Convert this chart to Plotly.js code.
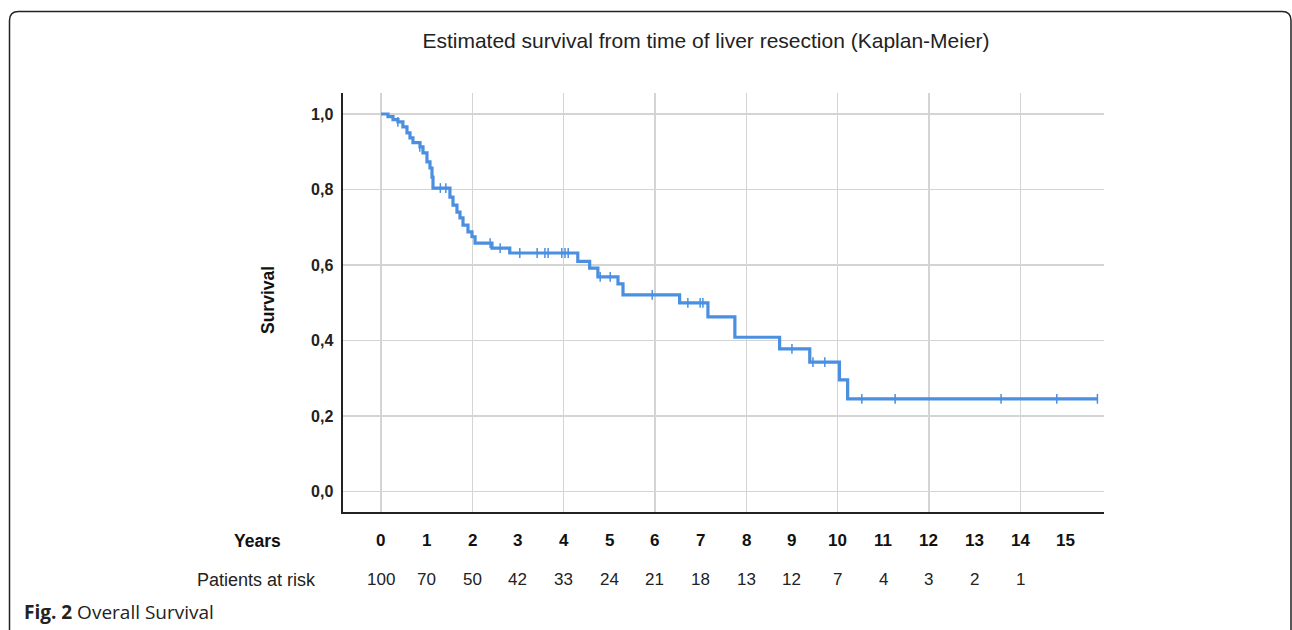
<!DOCTYPE html>
<html>
<head>
<meta charset="utf-8">
<script src="https://cdn.plot.ly/plotly-3.0.1.min.js"></script>
<style>html,body{margin:0;padding:0;background:#fff;}#chart{width:1292px;height:630px;}</style>
</head>
<body>
<div id="chart"></div>
<script>
// Kaplan-Meier step curve (time in years, survival)
const eventTimes = [0, 0.153, 0.263, 0.372, 0.48, 0.569, 0.635, 0.70, 0.854, 0.92, 1.007, 1.073, 1.117, 1.139,
  1.51, 1.577, 1.664, 1.73, 1.796, 1.905, 1.993, 2.06, 2.43, 2.82, 4.31, 4.57, 4.75, 5.19, 5.30,
  6.54, 7.16, 7.75, 8.73, 9.39, 10.04, 10.22, 15.69];
const survival = [1.0, 0.993, 0.985, 0.979, 0.966, 0.95, 0.937, 0.924, 0.913, 0.897, 0.873, 0.857, 0.833, 0.804,
  0.78, 0.759, 0.74, 0.725, 0.706, 0.688, 0.675, 0.658, 0.645, 0.632, 0.61, 0.592, 0.569, 0.55, 0.521,
  0.50, 0.463, 0.409, 0.378, 0.343, 0.296, 0.246, 0.246];
// censored observations
const censorTimes = [0.37, 0.85, 1.30, 1.42, 2.39, 2.61, 3.04, 3.42, 3.59, 3.66, 3.96, 4.03, 4.10, 4.80, 5.02,
  5.94, 6.72, 6.99, 7.05, 9.0, 9.46, 9.72, 10.53, 11.26, 13.58, 14.8, 15.69];
const censorSurv = [0.979, 0.913, 0.804, 0.804, 0.658, 0.645, 0.632, 0.632, 0.632, 0.632, 0.632, 0.632, 0.632, 0.569, 0.569,
  0.521, 0.50, 0.50, 0.50, 0.378, 0.343, 0.343, 0.246, 0.246, 0.246, 0.246, 0.246];
// risk table
const years = [0,1,2,3,4,5,6,7,8,9,10,11,12,13,14,15];
const atRisk = ['100','70','50','42','33','24','21','18','13','12','7','4','3','2','1',''];
const yTickVals = [0, 0.2, 0.4, 0.6, 0.8, 1.0];
const yTickText = ['0,0','0,2','0,4','0,6','0,8','1,0'];
const gridYears = [0,2,4,6,8,10,12,14];

const blue = '#4a8fe0';
const font = 'Liberation Sans, Arial, sans-serif';

const traces = [
  {x: eventTimes, y: survival, type: 'scatter', mode: 'lines',
   line: {shape: 'hv', color: blue, width: 3.2}, hoverinfo: 'skip', showlegend: false},
  {x: censorTimes, y: censorSurv, type: 'scatter', mode: 'markers',
   marker: {symbol: 'line-ns-open', size: 7, line: {color: blue, width: 1.5}, color: blue},
   hoverinfo: 'skip', showlegend: false}
];

const annotations = [];
years.forEach((yr, i) => {
  annotations.push({x: yr, y: -0.069, xref: 'x', yref: 'paper', text: '<b>' + yr + '</b>', showarrow: false,
    xanchor: 'center', yanchor: 'middle', font: {family: font, size: 17, color: '#111'}});
  if (atRisk[i] !== '') annotations.push({x: yr, y: -0.162, xref: 'x', yref: 'paper', text: atRisk[i], showarrow: false,
    xanchor: 'center', yanchor: 'middle', font: {family: font, size: 17, color: '#222'}});
});
annotations.push({x: (257-343)/761, y: -0.069, xref: 'paper', yref: 'paper', text: '<b>Years</b>', showarrow: false,
  xanchor: 'center', yanchor: 'middle', font: {family: font, size: 17.5, color: '#111'}});
annotations.push({x: (256-343)/761, y: -0.162, xref: 'paper', yref: 'paper', text: 'Patients at risk', showarrow: false,
  xanchor: 'center', yanchor: 'middle', font: {family: font, size: 18, color: '#222'}});
annotations.push({x: (268-343)/761, y: (512-300)/419, xref: 'paper', yref: 'paper', text: '<b>Survival</b>', showarrow: false,
  textangle: -90, xanchor: 'center', yanchor: 'middle', font: {family: font, size: 17.5, color: '#111'}});
annotations.push({x: (22-343)/761, y: (512-612)/419, xref: 'paper', yref: 'paper', text: '<b>Fig. 2</b> Overall Survival', showarrow: false,
  xanchor: 'left', yanchor: 'middle', font: {family: 'Open Sans, sans-serif', size: 19, color: '#222'}});

// frame (rounded corners) in paper coords
function px(x){return (x-343)/761;}
function py(y){return (512-y)/419;}
const r = 9;
const framePath = 'M ' + px(9.5) + ' ' + py(640) +
  ' L ' + px(9.5) + ' ' + py(11.5 + r) +
  ' Q ' + px(9.5) + ' ' + py(11.5) + ' ' + px(9.5 + r) + ' ' + py(11.5) +
  ' L ' + px(1291 - r) + ' ' + py(11.5) +
  ' Q ' + px(1291) + ' ' + py(11.5) + ' ' + px(1291) + ' ' + py(11.5 + r) +
  ' L ' + px(1291) + ' ' + py(640);

const layout = {
  width: 1292, height: 630,
  margin: {l: 343, r: 188, t: 93, b: 118},
  paper_bgcolor: '#fff', plot_bgcolor: '#fff',
  title: {text: 'Estimated survival from time of liver resection (Kaplan-Meier)', x: 706/1292, xref: 'container',
    y: 1 - 41/630, yref: 'container', xanchor: 'center', yanchor: 'middle',
    font: {family: font, size: 21, color: '#222'}},
  xaxis: {range: [-0.832, 15.834], tickvals: gridYears, showticklabels: false, ticks: '',
    showgrid: true, gridcolor: '#d4d4d4', gridwidth: 1.5, zeroline: false,
    showline: true, linecolor: '#222', linewidth: 2.2, fixedrange: true},
  yaxis: {range: [-0.0537, 1.0556], tickvals: yTickVals, ticktext: yTickText,
    tickfont: {family: font, size: 16, color: '#222', weight: 'bold'},
    ticks: 'outside', ticklen: 4, tickcolor: 'rgba(0,0,0,0)',
    showgrid: true, gridcolor: '#d4d4d4', gridwidth: 1.5, zeroline: false,
    showline: true, linecolor: '#222', linewidth: 2.5, fixedrange: true},
  annotations: annotations,
  shapes: [{type: 'path', xref: 'paper', yref: 'paper', path: framePath, line: {color: '#222', width: 1.5}}],
  showlegend: false
};

Plotly.newPlot('chart', traces, layout, {staticPlot: true, displayModeBar: false});
</script>
</body>
</html>
